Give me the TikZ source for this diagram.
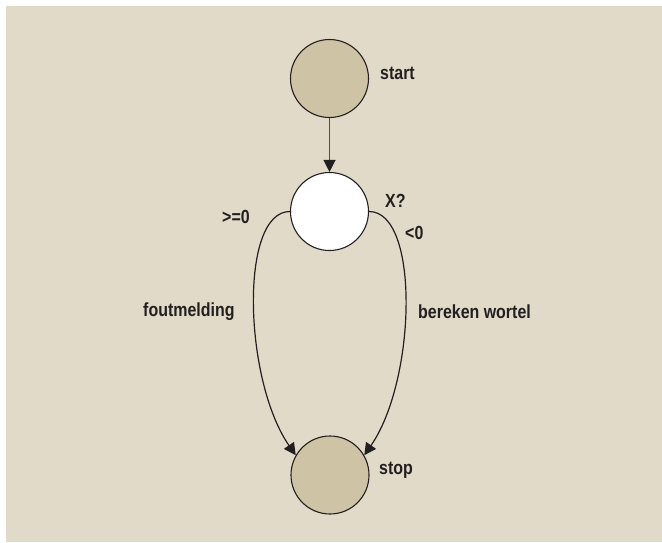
\documentclass[tikz,border=0pt]{standalone}
\usepackage{fontspec}
\setmainfont{Liberation Sans}
\newfontfamily\condfont[FakeStretch=0.84]{Liberation Sans}
\usetikzlibrary{arrows.meta}
\definecolor{bgbeige}{RGB}{225,218,201}
\definecolor{nodebeige}{RGB}{206,195,164}
\definecolor{inkdark}{RGB}{35,31,32}
\definecolor{arrowgray}{RGB}{80,77,77}
\begin{document}
\begin{tikzpicture}[x=1pt,y=-1pt,
  state/.style={circle,draw=inkdark,line width=1.1pt,minimum size=78pt,inner sep=0pt},
  lbl/.style={font=\condfont\bfseries\fontsize{19}{21}\selectfont,text=inkdark,inner sep=0pt},
  conn/.style={draw=inkdark,line width=1.2pt,-{Triangle[length=12pt,width=12pt,color=inkdark]}}]
\useasboundingbox (0,0) rectangle (662,542);
\fill[bgbeige] (6,6) rectangle (662,542);
\node[state,fill=nodebeige] (start) at (329.5,78.5) {};
\node[state,fill=white] (x) at (329.5,211.5) {};
\node[state,fill=nodebeige] (stop) at (330,475) {};
\node[lbl,anchor=west] (lstart) at (380,73) {start};
\node[lbl,anchor=west] (lx) at (385,201) {X?};
\node[lbl,anchor=west] (lge) at (222,217) {>=0};
\node[lbl,anchor=west] (llt) at (405,233) {<0};
\node[lbl,anchor=west] (lstop) at (379,470) {stop};
\node[lbl,anchor=west] (lfout) at (143,312) {foutmelding};
\node[lbl,anchor=west] (lber) at (418,312) {bereken wortel};
\draw[conn,draw=arrowgray] (start) -- (x);
\draw[conn] (x.west) .. controls +(-51,0) and +(-52,-75) .. (stop.150);
\draw[conn] (x.east) .. controls +(51,0) and +(52,-75) .. (stop.30);
\end{tikzpicture}
\end{document}
